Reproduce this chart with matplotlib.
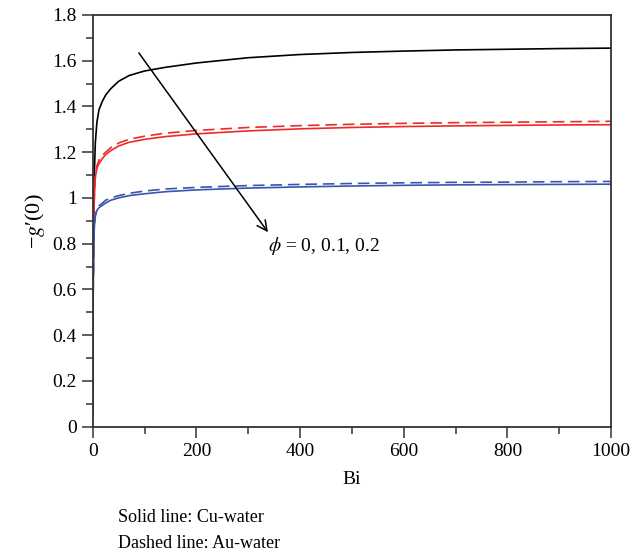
import numpy as np
import matplotlib
matplotlib.use('Agg')
import matplotlib.pyplot as plt
from matplotlib.ticker import MultipleLocator, FuncFormatter

plt.rcParams['font.family'] = ['Liberation Serif', 'DejaVu Serif']
plt.rcParams['mathtext.fontset'] = 'stix'

# Biot number samples and -g'(0) for each nanofluid / volume fraction
bi = [0.05, 0.2, 0.5, 1, 2, 3, 5, 8, 12, 18, 25, 35, 50, 70, 100, 140,
      200, 300, 400, 500, 600, 700, 800, 900, 1000]
phi0 = [0.05, 0.2, 0.45, 0.72, 0.98, 1.10, 1.24, 1.33, 1.385, 1.42, 1.45, 1.478,
        1.51, 1.535, 1.555, 1.571, 1.59, 1.613, 1.627, 1.636, 1.642, 1.647, 1.65, 1.653, 1.655]
cu_phi1 = [0.05, 0.19, 0.42, 0.66, 0.9, 1.0, 1.09, 1.13, 1.15, 1.17, 1.19, 1.207,
           1.227, 1.243, 1.256, 1.268, 1.28, 1.293, 1.302, 1.308, 1.312, 1.315, 1.317, 1.319, 1.32]
au_phi1 = [0.05, 0.19, 0.42, 0.66, 0.9, 1.0, 1.095, 1.14, 1.165, 1.185, 1.20, 1.22,
           1.24, 1.256, 1.27, 1.283, 1.295, 1.308, 1.316, 1.322, 1.326, 1.329, 1.331, 1.333, 1.335]
cu_phi2 = [0.05, 0.18, 0.4, 0.62, 0.8, 0.87, 0.92, 0.945, 0.957, 0.967, 0.978, 0.99,
           1.0, 1.01, 1.018, 1.027, 1.035, 1.043, 1.048, 1.052, 1.055, 1.057, 1.058, 1.059, 1.06]
au_phi2 = [0.05, 0.18, 0.4, 0.62, 0.8, 0.87, 0.925, 0.95, 0.965, 0.976, 0.99, 1.0,
           1.01, 1.02, 1.03, 1.039, 1.046, 1.054, 1.059, 1.063, 1.066, 1.068, 1.069, 1.071, 1.072]

red = '#ee2a2a'
blue = '#3a55b0'
dash = (0, (7, 3.5))

fig = plt.figure(figsize=(6.44, 5.54), dpi=100)
ax = fig.add_axes([0.144, 0.230, 0.805, 0.743])

ax.plot(bi, phi0, color='black', lw=1.2)
ax.plot(bi, cu_phi1, color=red, lw=1.2)
ax.plot(bi, au_phi1, color=red, lw=1.2, linestyle=dash)
ax.plot(bi, cu_phi2, color=blue, lw=1.2)
ax.plot(bi, au_phi2, color=blue, lw=1.2, linestyle=dash)

ax.annotate('', xy=(338, 0.85), xytext=(89, 1.634),
            arrowprops=dict(arrowstyle='->', color='black', lw=1.1,
                            mutation_scale=18, shrinkA=0, shrinkB=0))
ax.text(339, 0.79, r'$\phi$ = 0, 0.1, 0.2', fontsize=14, ha='left', va='center')

ax.set_xlim(0, 1000)
ax.set_ylim(0, 1.8)
ax.xaxis.set_major_locator(MultipleLocator(200))
ax.xaxis.set_minor_locator(MultipleLocator(100))
ax.yaxis.set_major_locator(MultipleLocator(0.2))
ax.yaxis.set_minor_locator(MultipleLocator(0.1))
ax.yaxis.set_major_formatter(FuncFormatter(lambda v, p: '%g' % round(v, 2)))

for s in ax.spines.values():
    s.set_linewidth(1.3)
    s.set_color('#333333')
ax.tick_params(which='both', direction='out', top=False, right=False,
               width=1.1, colors='#333333', labelcolor='black', labelsize=14)
ax.tick_params(which='major', length=8)
ax.tick_params(which='minor', length=5)

ax.set_xlabel('Bi', fontsize=14, labelpad=8)
ax.set_ylabel('\u2212$g$\u2032(0)', fontsize=16, labelpad=4)

fig.text(118 / 644, 1 - 517 / 554, 'Solid line: Cu-water', fontsize=13, va='center')
fig.text(118 / 644, 1 - 543 / 554, 'Dashed line: Au-water', fontsize=13, va='center')

fig.savefig('out.png', dpi=100)
